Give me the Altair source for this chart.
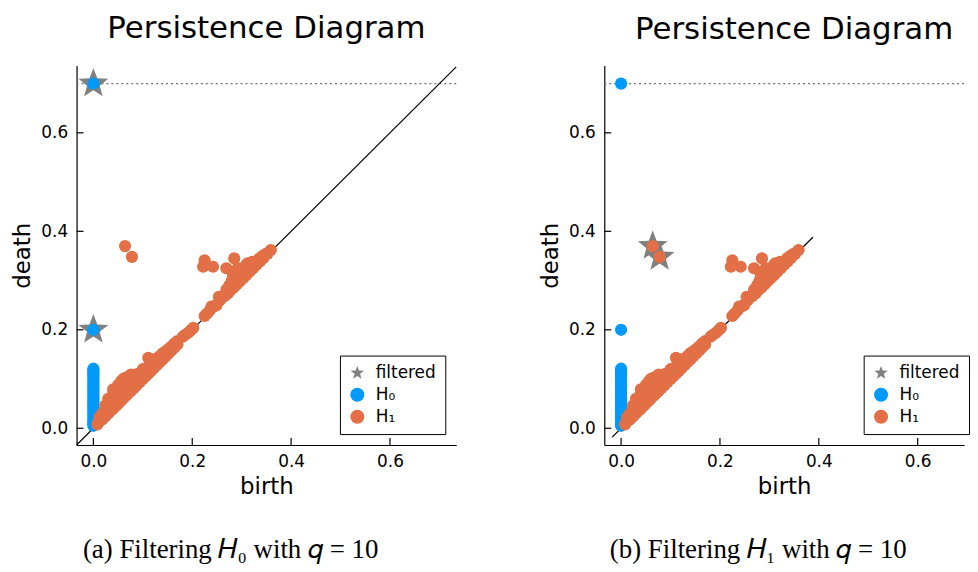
import math
import altair as alt
import pandas as pd

# ---------------- data ----------------
series_names = ["filtered", "H₀", "H₁"]
series_colors = ["#808080", "#009AFA", "#E26F46"]

# H0 points (birth = 0 for all)
h0_death = [0.005, 0.008, 0.012, 0.016, 0.020, 0.025, 0.030, 0.034, 0.038, 0.043,
            0.047, 0.052, 0.056, 0.060, 0.065, 0.070, 0.074, 0.079, 0.083, 0.088,
            0.092, 0.097, 0.101, 0.106, 0.110, 0.114, 0.118, 0.121, 0.200, 0.700]

# H1 points
h1_birth = [
    0.008, 0.012, 0.012, 0.018, 0.018, 0.024, 0.024, 0.024,
    0.030, 0.030, 0.030, 0.030, 0.036, 0.036, 0.036,
    0.040, 0.040, 0.040, 0.040, 0.046, 0.046, 0.046,
    0.050, 0.050, 0.050, 0.050, 0.056, 0.056, 0.056, 0.056,
    0.060, 0.060, 0.060, 0.060, 0.066, 0.066, 0.066, 0.066,
    0.070, 0.070, 0.070, 0.076, 0.076, 0.076, 0.076,
    0.082, 0.082, 0.082, 0.088, 0.088, 0.088, 0.094, 0.094,
    0.100, 0.100, 0.100, 0.106, 0.106, 0.111, 0.111, 0.111,
    0.116, 0.116, 0.116, 0.122, 0.122, 0.122, 0.128, 0.128,
    0.134, 0.134, 0.140, 0.140, 0.146, 0.146, 0.152, 0.152,
    0.158, 0.158, 0.164, 0.164, 0.170, 0.170,
    0.181, 0.186, 0.192, 0.197, 0.202,
    0.225, 0.230, 0.236, 0.239, 0.245, 0.249, 0.254, 0.256,
    0.265, 0.269, 0.272, 0.275, 0.277, 0.280, 0.281, 0.284, 0.286, 0.288,
    0.290, 0.292, 0.294, 0.296, 0.300, 0.301, 0.303, 0.306, 0.309, 0.310,
    0.313, 0.316, 0.320, 0.321, 0.323, 0.328, 0.330, 0.336, 0.337, 0.342,
    0.344, 0.350, 0.352, 0.359,
    0.222, 0.225, 0.242, 0.269, 0.282, 0.285, 0.292, 0.312, 0.322,
    0.064, 0.078,
]
h1_death = [
    0.008, 0.014, 0.022, 0.018, 0.030, 0.024, 0.036, 0.046,
    0.030, 0.040, 0.052, 0.060, 0.036, 0.048, 0.062,
    0.040, 0.055, 0.070, 0.079, 0.046, 0.058, 0.072,
    0.050, 0.062, 0.075, 0.088, 0.056, 0.068, 0.082, 0.095,
    0.060, 0.072, 0.085, 0.100, 0.066, 0.078, 0.090, 0.103,
    0.070, 0.082, 0.094, 0.076, 0.088, 0.100, 0.109,
    0.082, 0.094, 0.106, 0.088, 0.100, 0.110, 0.094, 0.105,
    0.100, 0.112, 0.120, 0.106, 0.118, 0.111, 0.125, 0.143,
    0.116, 0.128, 0.138, 0.122, 0.134, 0.140, 0.128, 0.140,
    0.134, 0.146, 0.140, 0.152, 0.146, 0.156, 0.152, 0.161,
    0.158, 0.166, 0.164, 0.172, 0.170, 0.177,
    0.186, 0.190, 0.194, 0.199, 0.204,
    0.228, 0.233, 0.240, 0.247, 0.248, 0.250, 0.267, 0.260,
    0.268, 0.281, 0.274, 0.290, 0.280, 0.300, 0.290, 0.286, 0.310, 0.297,
    0.292, 0.315, 0.304, 0.298, 0.325, 0.310, 0.305, 0.318, 0.311, 0.333,
    0.322, 0.318, 0.337, 0.327, 0.325, 0.338, 0.332, 0.345, 0.339, 0.350,
    0.346, 0.355, 0.354, 0.362,
    0.328, 0.341, 0.328, 0.325, 0.315, 0.345, 0.325, 0.335, 0.338,
    0.370, 0.348,
]

# filtered (star) points per panel
stars_a_birth = [0.0, 0.0]
stars_a_death = [0.700, 0.200]
stars_b_birth = [0.064, 0.078]
stars_b_death = [0.370, 0.348]

# diagonal extents per panel, infinite-death line
diag_a = [-0.034, 0.734]
diag_b = [-0.018, 0.388]
inf_death = 0.7

tick_values = [0.0, 0.2, 0.4, 0.6]
x_domain_a = [-0.034, 0.734]
x_domain_b = [-0.034, 0.6938]   # right panel is cut by the page edge
y_domain = [-0.034, 0.737]
panel_title = "Persistence Diagram"
captions = ["(a) Filtering 𝐻₀ with 𝑞 = 10", "(b) Filtering 𝐻₁ with 𝑞 = 10"]

# ---------------- styling ----------------
H = 382
W_A = 382
W_B = 362
FONT = "DejaVu Sans"

# five-pointed star marker as a custom symbol path in the [-1, 1] box
star_pts = []
for k in range(10):
    ang = -math.pi / 2 + k * math.pi / 5
    r = 1.0 if k % 2 == 0 else 0.42
    star_pts.append(f"{r * math.cos(ang):.4f},{r * math.sin(ang):.4f}")
STAR = "M" + " L".join(star_pts) + " Z"


def make_legend(lx):
    return alt.Legend(
        title=None, orient="none", legendX=lx, legendY=292,
        strokeColor="black", fillColor="white", padding=9,
        labelFont=FONT, labelFontSize=17, labelColor="black",
        symbolSize=200, symbolStrokeWidth=0, labelOffset=10, rowPadding=4,
    )


ys = alt.Scale(domain=y_domain, nice=False, zero=False)
x_axis = alt.Axis(values=tick_values, format=".1f", ticks=False, grid=False,
                  labelPadding=9, titlePadding=6, title="birth")
y_axis = alt.Axis(values=tick_values, format=".1f", ticks=False, grid=False,
                  labelPadding=9, titlePadding=6, title="death")


def panel(star_b, star_d, diag, caption, x_domain, width, cap_x, title_dx, legend_x):
    xs = alt.Scale(domain=x_domain, nice=False, zero=False)
    legend = make_legend(legend_x)
    color_enc = alt.Color("series:N", scale=alt.Scale(domain=series_names, range=series_colors), legend=legend)
    shape_enc = alt.Shape("series:N", scale=alt.Scale(domain=series_names, range=[STAR, "circle", "circle"]),
                          legend=legend)

    df_h0 = pd.DataFrame({"birth": [0.0] * len(h0_death), "death": h0_death, "series": "H₀"})
    df_h1 = pd.DataFrame({"birth": h1_birth, "death": h1_death, "series": "H₁"})
    df_st = pd.DataFrame({"birth": star_b, "death": star_d, "series": "filtered"})
    df_diag = pd.DataFrame({"birth": diag, "death": diag})
    df_inf = pd.DataFrame({"death": [inf_death]})
    df_ticks = pd.DataFrame({"v": tick_values})
    df_cap = pd.DataFrame({"caption": [caption]})

    X = alt.X("birth:Q", scale=xs, axis=x_axis)
    Y = alt.Y("death:Q", scale=ys, axis=y_axis)

    inf_line = alt.Chart(df_inf).mark_rule(color="#707070", strokeDash=[2, 3], strokeWidth=1.2).encode(y=Y)
    diag_line = alt.Chart(df_diag).mark_line(color="black", strokeWidth=1.2).encode(x=X, y=Y)
    xticks = alt.Chart(df_ticks).mark_rule(color="black", strokeWidth=1.2).encode(
        x=alt.X("v:Q", scale=xs, axis=x_axis), y=alt.value(H), y2=alt.value(H - 7))
    yticks = alt.Chart(df_ticks).mark_rule(color="black", strokeWidth=1.2).encode(
        y=alt.Y("v:Q", scale=ys, axis=y_axis), x=alt.value(0), x2=alt.value(7))
    stars = alt.Chart(df_st).mark_point(filled=True, size=1000, opacity=1, strokeWidth=0).encode(
        x=X, y=Y, color=color_enc, shape=shape_enc)
    p0 = alt.Chart(df_h0).mark_point(filled=True, size=150, opacity=1, strokeWidth=0).encode(
        x=X, y=Y, color=color_enc, shape=shape_enc)
    p1 = alt.Chart(df_h1).mark_point(filled=True, size=150, opacity=1, strokeWidth=0).encode(
        x=X, y=Y, color=color_enc, shape=shape_enc)
    cap = alt.Chart(df_cap).mark_text(font="Liberation Serif", fontSize=27, color="black",
                                      align="center", baseline="middle").encode(
        text="caption:N", x=alt.value(cap_x), y=alt.value(488))

    return alt.layer(inf_line, diag_line, xticks, yticks, stars, p0, p1, cap).properties(
        width=width, height=H,
        title=alt.TitleParams(panel_title, font=FONT, fontSize=31, fontWeight="normal",
                              color="black", offset=20, anchor="middle", frame="group",
                              dx=title_dx),
    )


chart = alt.hconcat(
    panel(stars_a_birth, stars_a_death, diag_a, captions[0], x_domain_a, W_A, 155, 0, 265),
    panel(stars_b_birth, stars_b_death, diag_b, captions[1], x_domain_b, W_B, 155, 10, 261),
    spacing=80,
).resolve_scale(color="independent", shape="independent").resolve_legend(
    color="independent", shape="independent"
).configure_view(stroke=None).configure_axis(
    domainColor="black", domainWidth=1.2, labelColor="black", titleColor="black",
    labelFont=FONT, titleFont=FONT, labelFontSize=17, titleFontSize=23,
    titleFontWeight="normal",
).properties(padding={"left": 3, "top": 3, "right": 0, "bottom": 0})

chart.save("out.html", embed_options={"renderer": "svg", "actions": False})
